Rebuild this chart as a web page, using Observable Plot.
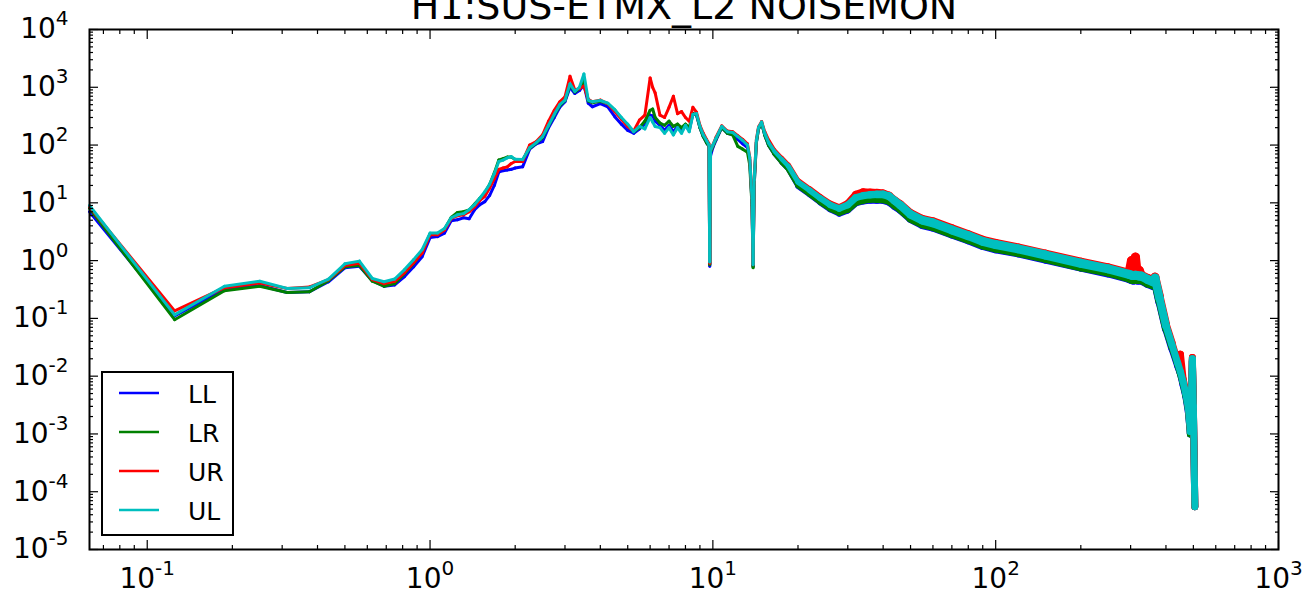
<!DOCTYPE html>
<html>
<head>
<meta charset="utf-8">
<script src="https://cdn.jsdelivr.net/npm/d3@7"></script>
<script src="https://cdn.jsdelivr.net/npm/@observablehq/plot@0.6"></script>
<style>
  html, body { margin: 0; padding: 0; background: #fff; overflow: hidden; }
  #wrap { position: relative; width: 1315px; height: 597px; }
  #legend { position: absolute; left: 0; top: 0; }
</style>
</head>
<body>
<div id="wrap"></div>
<script>
// ---------------- data ----------------
const title = "H1:SUS-ETMX_L2 NOISEMON";
const seriesNames = ["LL", "LR", "UR", "UL"];
const seriesColors = ["#0000ff", "#008000", "#ff0000", "#00bfbf"];

const freq = [
  0.0625, 0.125, 0.1875, 0.25, 0.3125, 0.375, 0.4375, 0.5, 0.5625, 0.625,
  0.6875, 0.75, 0.8125, 0.875, 0.9375, 1.0, 1.0625, 1.125, 1.1875, 1.25,
  1.3125, 1.375, 1.4375, 1.5, 1.5625, 1.625, 1.6875, 1.75, 1.8125, 1.875,
  1.9375, 2.0, 2.125, 2.25, 2.375, 2.5, 2.625, 2.75, 2.875, 3.0,
  3.125, 3.25, 3.375, 3.5, 3.625, 3.75, 4.0, 4.25, 4.5, 4.75,
  5.0, 5.25, 5.5, 5.75, 6.0, 6.125, 6.25, 6.5, 6.75, 7.0,
  7.25, 7.5, 7.75, 8.0, 8.25, 8.5, 8.75, 9.0, 9.25, 9.5,
  9.6875, 9.75, 9.8125, 10.0, 10.25, 10.75, 11.25, 11.75, 12.25, 12.75,
  13.25, 13.5, 13.75, 13.875, 14.0, 14.25, 14.5, 14.875, 15.25, 15.75,
  16.5, 17.5, 18.5, 20, 22, 24, 26, 28, 30, 32,
  34, 36, 38, 40, 42, 44, 46, 50, 55, 60,
  70, 80, 90, 100, 120, 150, 200, 250, 296, 302,
  307, 312, 317, 322, 327, 345, 360, 366, 380, 400,
  420, 440, 450, 460, 470, 480, 488, 496, 500, 506
];

const LL = [
  7.0, 0.11, 0.32, 0.37, 0.28, 0.29, 0.43, 0.75, 0.80, 0.45,
  0.36, 0.38, 0.53, 0.78, 1.17, 2.5, 2.6, 3.0, 4.9, 5.1,
  5.5, 5.3, 7.6, 9.3, 10.5, 13.5, 20, 34, 36, 37,
  38, 40, 42, 85, 105, 115, 200, 300, 450, 560,
  1000, 780, 880, 1100, 530, 460, 520, 460, 310, 230,
  180, 160, 190, 230, 330, 320, 260, 220, 180, 220,
  170, 210, 170, 220, 180, 350, 330, 200, 140, 110,
  95, 0.8, 65, 90, 120, 200, 160, 150, 125, 105,
  90, 55, 10, 0.8, 20, 110, 190, 240, 150, 100,
  70, 50, 38, 19.5, 14, 10.2, 7.8, 6.6, 7.5, 10,
  10.8, 11.2, 11.2, 11.2, 10.4, 8.8, 7.6, 5.3, 4.2, 3.8,
  2.9, 2.3, 1.83, 1.6, 1.36, 1.06, 0.77, 0.61, 0.49, 0.47,
  0.46, 0.48, 0.46, 0.46, 0.46, 0.40, 0.37, 0.44, 0.19, 0.065,
  0.03, 0.015, 0.011, 0.007, 0.0045, 0.0024, 0.001, 0.018, 0.0028, 5.5e-5
];

const LR = [
  8.0, 0.095, 0.30, 0.36, 0.28, 0.29, 0.45, 0.78, 0.82, 0.44,
  0.36, 0.40, 0.60, 0.90, 1.4, 2.9, 2.9, 3.5, 5.6, 6.8,
  7.0, 7.5, 9.5, 12, 15, 21, 33, 55, 58, 62,
  62, 56, 55, 88, 108, 135, 215, 330, 480, 590,
  1100, 830, 950, 1300, 580, 540, 570, 520, 400, 290,
  220, 170, 200, 260, 400, 420, 300, 240, 220, 260,
  210, 230, 200, 230, 200, 350, 340, 200, 140, 110,
  95, 0.85, 75, 95, 125, 200, 160, 150, 95, 85,
  75, 45, 9, 0.75, 20, 110, 190, 240, 150, 100,
  70, 50, 38, 20, 14.3, 10.4, 8, 6.8, 7.7, 10.2,
  11.1, 11.6, 11.6, 11.5, 10.7, 9.1, 7.8, 5.4, 4.3, 3.9,
  2.95, 2.35, 1.87, 1.65, 1.39, 1.09, 0.78, 0.63, 0.50, 0.48,
  0.47, 0.49, 0.47, 0.47, 0.47, 0.41, 0.38, 0.45, 0.20, 0.068,
  0.032, 0.016, 0.011, 0.0075, 0.0047, 0.0026, 0.001, 0.019, 0.0029, 5.5e-5
];

const UR = [
  8.5, 0.135, 0.34, 0.41, 0.33, 0.35, 0.47, 0.82, 0.90, 0.47,
  0.40, 0.44, 0.62, 0.92, 1.35, 2.8, 2.8, 3.4, 5.3, 6.0,
  6.2, 7.0, 8.5, 11, 13, 18, 26, 38, 40, 42,
  48, 52, 52, 100, 115, 150, 260, 400, 560, 680,
  1550, 900, 950, 1050, 620, 560, 600, 520, 380, 280,
  210, 175, 270, 330, 1450, 1000, 800, 330, 300, 450,
  700, 350, 380, 300, 260, 450, 370, 220, 160, 125,
  105, 0.9, 80, 100, 135, 215, 175, 170, 145, 125,
  105, 62, 12, 0.85, 25, 125, 205, 255, 170, 120,
  82, 60, 45, 24, 17.2, 12.5, 9.6, 8.3, 9.8, 14,
  15.5, 15.2, 15, 14.6, 13.3, 11, 9.4, 6.6, 5.2, 4.7,
  3.55, 2.8, 2.25, 1.98, 1.66, 1.3, 0.94, 0.75, 0.60, 1.0,
  0.58, 1.15, 0.57, 0.68, 0.56, 0.49, 0.45, 0.52, 0.24, 0.08,
  0.038, 0.018, 0.024, 0.009, 0.0055, 0.003, 0.0012, 0.021, 0.0032, 5.5e-5
];

const UL = [
  9.0, 0.115, 0.36, 0.44, 0.33, 0.34, 0.48, 0.88, 0.98, 0.49,
  0.43, 0.48, 0.70, 1.04, 1.55, 3.0, 3.0, 3.6, 5.5, 6.2,
  6.5, 7.6, 9.3, 12, 15.6, 21, 32, 52, 55, 60,
  63, 57, 56, 90, 110, 140, 220, 340, 500, 600,
  1150, 850, 1000, 1700, 600, 560, 590, 530, 410, 300,
  230, 170, 210, 190, 300, 250, 210, 200, 160, 200,
  150, 200, 160, 220, 170, 340, 350, 210, 150, 120,
  100, 0.95, 80, 100, 130, 210, 170, 165, 140, 120,
  100, 60, 12, 0.85, 25, 120, 200, 250, 160, 110,
  78, 57, 43, 23, 16.5, 12, 9.2, 8.0, 9.2, 12.3,
  13.3, 13.8, 14, 14, 13, 10.8, 9.1, 6.3, 5.0, 4.5,
  3.4, 2.7, 2.15, 1.9, 1.6, 1.25, 0.9, 0.72, 0.58, 0.56,
  0.55, 0.56, 0.55, 0.54, 0.54, 0.47, 0.43, 0.50, 0.22, 0.075,
  0.035, 0.017, 0.012, 0.008, 0.005, 0.0028, 0.0011, 0.02, 0.003, 5.5e-5
];

const xTicks = [0.1, 1, 10, 100, 1000];
const xTickLabels = ["10^-1", "10^0", "10^1", "10^2", "10^3"];
const yTicks = [1e-5, 1e-4, 1e-3, 1e-2, 1e-1, 1, 10, 100, 1000, 10000];
const yTickLabels = ["10^-5", "10^-4", "10^-3", "10^-2", "10^-1", "10^0", "10^1", "10^2", "10^3", "10^4"];
const xDomain = [0.0625, 1000];
const yDomain = [1e-5, 1e4];

// ---------------- build ----------------
// line thickness grows where the measured spectrum becomes a dense noisy band
function bandWidth(f) {
  const L = Math.log10;
  if (f <= 15) return 3;
  if (f <= 20) return 3 + 2.5 * L(f / 15) / L(20 / 15);
  if (f <= 60) return 5.5 + 3.5 * L(f / 20) / L(3);
  if (f <= 360) return 9;
  if (f <= 420) return 9 - 2 * L(f / 360) / L(420 / 360);
  return 7;
}

const seriesValues = [LL, LR, UR, UL];
const segMarks = seriesNames.map((name, si) => {
  const vals = seriesValues[si];
  const segs = [];
  for (let i = 0; i + 1 < freq.length; i++) {
    segs.push({f1: freq[i], v1: vals[i], f2: freq[i + 1], v2: vals[i + 1], s: name});
  }
  return Plot.link(segs, {
    x1: "f1", y1: "v1", x2: "f2", y2: "v2",
    stroke: seriesColors[si],
    strokeWidth: d => bandWidth(Math.sqrt(d.f1 * d.f2)),
    strokeLinecap: "round"
  });
});

const xMinor = d3.scaleLog().domain(xDomain).ticks().filter(t => !xTicks.some(m => Math.abs(m - t) / m < 1e-9));
const yMinor = d3.scaleLog().domain(yDomain).ticks().filter(t => !yTicks.some(m => Math.abs(m - t) / m < 1e-9));

const FONT = "DejaVu Sans";
const noText = () => "";
const chart = Plot.plot({
  width: 1315,
  height: 597,
  marginLeft: 89,
  marginRight: 37,
  marginTop: 29,
  marginBottom: 48,
  style: {fontFamily: FONT, fontSize: "28px", color: "#000", background: "#fff", overflow: "visible"},
  x: {type: "log", domain: xDomain},
  y: {type: "log", domain: yDomain},
  marks: [
    ...segMarks,
    // tick labels
    Plot.axisX(xTicks, {anchor: "bottom", tickSize: 0, tickPadding: 19, fontSize: 28, label: null,
      tickFormat: d => xTickLabels[xTicks.indexOf(d)]}),
    Plot.axisY(yTicks, {anchor: "left", tickSize: 0, tickPadding: 21, fontSize: 28, label: null,
      tickFormat: d => yTickLabels[yTicks.indexOf(d)]}),
    // inward major ticks
    Plot.axisX(xTicks, {anchor: "bottom", tickSize: -9, tickFormat: noText, label: null, strokeWidth: 1.2}),
    Plot.axisX(xTicks, {anchor: "top", tickSize: -9, tickFormat: noText, label: null, strokeWidth: 1.2}),
    Plot.axisY(yTicks, {anchor: "left", tickSize: -9, tickFormat: noText, label: null, strokeWidth: 1.2}),
    Plot.axisY(yTicks, {anchor: "right", tickSize: -9, tickFormat: noText, label: null, strokeWidth: 1.2}),
    // inward minor ticks
    Plot.axisX(xMinor, {anchor: "bottom", tickSize: -4, tickFormat: noText, label: null, strokeWidth: 1.2}),
    Plot.axisX(xMinor, {anchor: "top", tickSize: -4, tickFormat: noText, label: null, strokeWidth: 1.2}),
    Plot.axisY(yMinor, {anchor: "left", tickSize: -4, tickFormat: noText, label: null, strokeWidth: 1.2}),
    Plot.axisY(yMinor, {anchor: "right", tickSize: -4, tickFormat: noText, label: null, strokeWidth: 1.2}),
    Plot.frame({stroke: "#000", strokeWidth: 2}),
    Plot.text([title], {frameAnchor: "top", dy: -23, lineAnchor: "middle", fontSize: 38, fill: "#000"})
  ]
});

// superscript exponents in tick labels
const NS = "http://www.w3.org/2000/svg";
chart.querySelectorAll("text").forEach(t => {
  const m = (t.textContent || "").match(/^10\^(-?\d+)$/);
  if (m) {
    t.textContent = "10";
    const ts = document.createElementNS(NS, "tspan");
    ts.setAttribute("dy", "-13");
    ts.setAttribute("font-size", "20");
    ts.textContent = m[1];
    t.appendChild(ts);
  }
});

const wrap = document.getElementById("wrap");
wrap.appendChild(chart);

// legend overlay
const legend = document.createElementNS(NS, "svg");
legend.setAttribute("id", "legend");
legend.setAttribute("width", "1315");
legend.setAttribute("height", "597");
legend.style.pointerEvents = "none";
const box = document.createElementNS(NS, "rect");
box.setAttribute("x", 102); box.setAttribute("y", 372);
box.setAttribute("width", 131); box.setAttribute("height", 163);
box.setAttribute("fill", "#fff"); box.setAttribute("stroke", "#000"); box.setAttribute("stroke-width", 2);
legend.appendChild(box);
const rowY = [393, 432, 471, 510];
seriesNames.forEach((name, i) => {
  const ln = document.createElementNS(NS, "line");
  ln.setAttribute("x1", 119); ln.setAttribute("x2", 159);
  ln.setAttribute("y1", rowY[i]); ln.setAttribute("y2", rowY[i]);
  ln.setAttribute("stroke", seriesColors[i]); ln.setAttribute("stroke-width", 2.5);
  legend.appendChild(ln);
  const tx = document.createElementNS(NS, "text");
  tx.setAttribute("x", 188); tx.setAttribute("y", rowY[i] + 10);
  tx.setAttribute("font-family", FONT); tx.setAttribute("font-size", 25);
  tx.setAttribute("fill", "#000");
  tx.textContent = name;
  legend.appendChild(tx);
});
wrap.appendChild(legend);
</script>
</body>
</html>
